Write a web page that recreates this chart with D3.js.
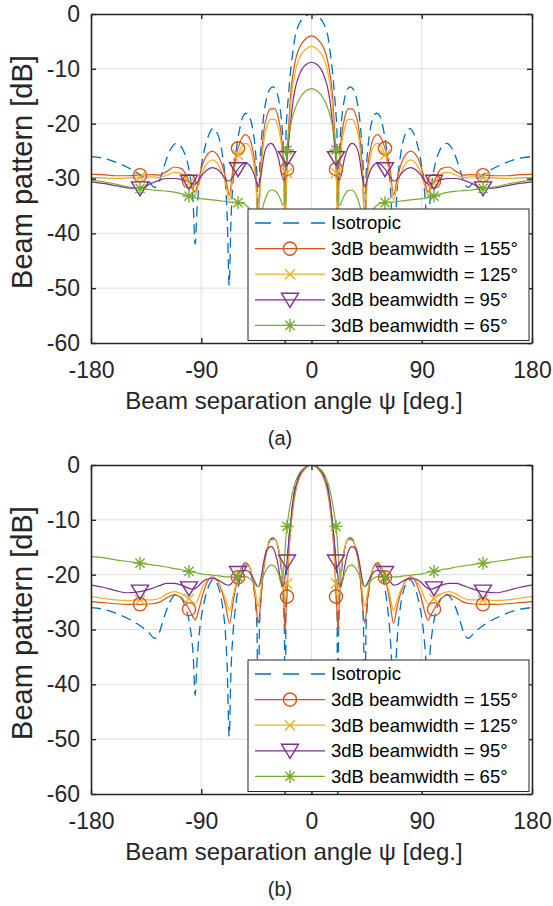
<!DOCTYPE html>
<html>
<head>
<meta charset="utf-8">
<script src="https://cdn.jsdelivr.net/npm/d3@7"></script>
<style>
  body { margin: 0; background: #fff; }
  svg { display: block; font-family: "Liberation Sans", Arial, Helvetica, sans-serif; }
</style>
</head>
<body>
<svg id="fig" width="553" height="906"></svg>
<script>
// ---- data ----
const xTicks = [-180, -90, 0, 90, 180];
const yTicks = [0, -10, -20, -30, -40, -50, -60];
const markerAngles = [-140, -100, -60, -20, 20, 60, 100, 140];
const legendLabels = ['Isotropic', '3dB beamwidth = 155\u00B0', '3dB beamwidth = 125\u00B0',
  '3dB beamwidth = 95\u00B0', '3dB beamwidth = 65\u00B0'];
const panelCaptions = ['(a)', '(b)'];

// isotropic pattern (same in both panels)
const isoAngles = [-180, -170, -160, -150, -140, -133, -128, -125, -122, -118, -114, -110.5, -107, -104, -101,
  -98.5, -96.5, -95, -93.5, -91.5, -89, -86, -83, -80.5, -78, -75, -72.5, -70.5, -68.8, -67.2, -65.8, -64,
  -61.5, -58.5, -55.5, -53, -50.5, -48, -46, -44.5, -43.5, -42.5, -41, -39, -36.5, -34, -31.5, -29, -26.5,
  -24.5, -23, -22, -21.5, -20.8, -20, -18.9, -16.7, -15, -13.5, -11.5, -9.4, -7, -4, 0,
  4, 7, 9.4, 11.5, 13.5, 15, 16.7, 18.9, 20, 20.8, 21.5, 22, 23, 24.5, 26.5, 29, 31.5, 34, 36.5, 39,
  41, 42.5, 43.5, 44.5, 46, 48, 50.5, 53, 55.5, 58.5, 61.5, 64, 65.8, 67.2, 68.8, 70.5, 72.5, 75, 78, 80.5,
  83, 86, 89, 91.5, 93.5, 95, 96.5, 98.5, 101, 104, 107, 110.5, 114, 118, 122, 125, 128, 133, 140, 150,
  160, 170, 180];
const isoPattern = [-26.0, -26.3, -27.0, -28.0, -29.3, -30.5, -31.6, -31.0, -29.0, -26.2, -24.3, -23.6, -24.0,
  -25.2, -27.3, -30.5, -35.0, -42.0, -36.0, -30.5, -26.5, -23.5, -21.6, -20.9, -21.3, -23.0, -26.0, -30.0,
  -37.0, -49.5, -38.0, -30.5, -25.0, -20.8, -18.5, -18.1, -18.8, -21.0, -24.5, -30.0, -56.0, -30.0, -23.5,
  -18.5, -15.2, -13.7, -13.3, -13.9, -16.0, -19.5, -24.5, -32.0, -80, -21.5, -18.3, -15.1, -9.6, -6.6, -4.2,
  -2.6, -1.5, -0.8, -0.25, 0,
  -0.25, -0.8, -1.5, -2.6, -4.2, -6.6, -9.6, -15.1, -18.3, -21.5, -80, -32.0, -24.5, -19.5, -16.0, -13.9,
  -13.3, -13.7, -15.2, -18.5, -23.5, -30.0, -56.0, -30.0, -24.5, -21.0, -18.8, -18.1, -18.5, -20.8, -25.0,
  -30.5, -38.0, -49.5, -37.0, -30.0, -26.0, -23.0, -21.3, -20.9, -21.6, -23.5, -26.5, -30.5, -36.0, -42.0,
  -35.0, -30.5, -27.3, -25.2, -24.0, -23.6, -24.3, -26.2, -29.0, -31.0, -31.6, -30.5, -29.3, -28.0, -27.0,
  -26.3, -26.0];

// directional beams, sampled on a common angle grid
const beamAngles = [-180, -170, -160, -150, -140, -130, -124, -118, -112, -106, -100, -97, -95, -93, -89,
  -85, -81, -77, -73, -70, -67, -64, -60, -57, -54, -51, -48, -45.5, -43.5, -41.5, -39, -36, -33, -30, -27,
  -25, -23.5, -22.3, -21.6, -21, -20, -19, -18, -17, -15, -13, -10, -5, 0,
  5, 10, 13, 15, 17, 18, 19, 20, 21, 21.6, 22.3, 23.5, 25, 27, 30, 33, 36, 39, 41.5, 43.5, 45.5, 48, 51,
  54, 57, 60, 64, 67, 70, 73, 77, 81, 85, 89, 93, 95, 97, 100, 106, 112, 118, 124, 130, 140, 150, 160,
  170, 180];

// panel (a)
const beamA155 = [-29.2, -29.3, -29.5, -29.5, -29.4, -29.3, -29.4, -28.7, -27.9, -28.2, -30.5, -31.8, -32.5,
  -31.0, -27.5, -25.6, -25.0, -25.6, -27.5, -30.0, -33.0, -28.0, -24.5, -22.7, -22.0, -22.5, -24.8, -29.0,
  -38.0, -28.0, -21.5, -18.3, -17.3, -17.3, -19.0, -21.5, -25.0, -31.0, -45.0, -34.0, -28.3, -22.0, -18.0,
  -14.5, -10.8, -8.3, -6.2, -4.6, -4.0,
  -4.6, -6.2, -8.3, -10.8, -14.5, -18.0, -22.0, -28.3, -34.0, -45.0, -31.0, -25.0, -21.5, -19.0, -17.3,
  -17.3, -18.3, -21.5, -28.0, -38.0, -29.0, -24.8, -22.5, -22.0, -22.7, -24.5, -28.0, -33.0, -30.0, -27.5,
  -25.6, -25.0, -25.6, -27.5, -31.0, -32.5, -31.8, -30.5, -28.2, -27.9, -28.7, -29.4, -29.3, -29.4, -29.5,
  -29.5, -29.3, -29.2];
const beamA125 = [-29.8, -29.9, -30.0, -29.9, -29.8, -29.7, -29.8, -29.4, -28.9, -29.1, -30.8, -32.2, -33.0,
  -31.8, -28.8, -27.2, -26.6, -27.2, -29.0, -31.0, -34.0, -29.5, -25.7, -24.2, -23.6, -24.0, -26.2, -30.5,
  -39.0, -29.5, -23.3, -20.2, -19.2, -19.2, -20.8, -23.2, -26.5, -32.0, -46.0, -35.0, -29.0, -23.5, -19.8,
  -16.4, -12.7, -10.2, -8.1, -6.5, -5.9,
  -6.5, -8.1, -10.2, -12.7, -16.4, -19.8, -23.5, -29.0, -35.0, -46.0, -32.0, -26.5, -23.2, -20.8, -19.2,
  -19.2, -20.2, -23.3, -29.5, -39.0, -30.5, -26.2, -24.0, -23.6, -24.2, -25.7, -29.5, -34.0, -31.0, -29.0,
  -27.2, -26.6, -27.2, -28.8, -31.8, -33.0, -32.2, -30.8, -29.1, -28.9, -29.4, -29.8, -29.7, -29.8, -29.9,
  -30.0, -29.9, -29.8];
const beamA95 = [-30.6, -30.9, -31.3, -31.7, -31.8, -30.8, -30.3, -30.0, -30.0, -30.2, -30.6, -31.0, -31.0,
  -30.6, -29.3, -28.4, -28.0, -28.3, -29.2, -30.2, -30.5, -29.6, -28.3, -27.5, -27.2, -27.5, -28.6, -30.2,
  -31.5, -29.8, -26.0, -24.0, -23.6, -24.3, -26.3, -28.5, -30.0, -30.3, -29.2, -27.8, -26.3, -24.2, -22.0,
  -19.6, -15.8, -13.3, -11.1, -9.3, -8.8,
  -9.3, -11.1, -13.3, -15.8, -19.6, -22.0, -24.2, -26.3, -27.8, -29.2, -30.3, -30.0, -28.5, -26.3, -24.3,
  -23.6, -24.0, -26.0, -29.8, -31.5, -30.2, -28.6, -27.5, -27.2, -27.5, -28.3, -29.6, -30.5, -30.2, -29.2,
  -28.3, -28.0, -28.4, -29.3, -30.6, -31.0, -31.0, -30.6, -30.2, -30.0, -30.0, -30.3, -30.8, -31.8, -31.7,
  -31.3, -30.9, -30.6];
const beamA65 = [-30.3, -30.6, -31.0, -31.5, -31.8, -32.1, -32.2, -32.3, -32.5, -32.8, -33.2, -33.4, -33.5,
  -33.6, -33.7, -33.8, -33.9, -34.0, -34.1, -34.2, -34.3, -34.3, -34.4, -34.5, -34.8, -35.4, -36.3, -37.3,
  -37.8, -36.8, -34.6, -32.8, -32.1, -32.2, -33.0, -34.0, -34.8, -34.8, -32.0, -28.5, -24.8, -22.8, -21.3,
  -20.2, -18.4, -17.0, -15.5, -14.1, -13.6,
  -14.1, -15.5, -17.0, -18.4, -20.2, -21.3, -22.8, -24.8, -28.5, -32.0, -34.8, -34.8, -34.0, -33.0, -32.2,
  -32.1, -32.8, -34.6, -36.8, -37.8, -37.3, -36.3, -35.4, -34.8, -34.5, -34.4, -34.3, -34.3, -34.2, -34.1,
  -34.0, -33.9, -33.8, -33.7, -33.6, -33.5, -33.4, -33.2, -32.8, -32.5, -32.3, -32.2, -32.1, -31.8, -31.5,
  -31.0, -30.6, -30.3];

// panel (b)
const beamB155 = [-24.9, -25.1, -25.3, -25.4, -25.4, -25.3, -25.0, -24.2, -23.7, -24.3, -26.3, -27.6, -28.3,
  -27.2, -23.8, -21.3, -20.4, -21.0, -23.2, -25.8, -28.9, -25.0, -20.5, -18.6, -17.8, -18.4, -21.0, -25.0,
  -28.9, -25.0, -19.0, -15.2, -13.6, -13.5, -15.2, -17.8, -21.0, -26.5, -30.5, -27.5, -24.0, -18.5, -14.6,
  -11.6, -7.5, -4.8, -2.4, -0.6, 0,
  -0.6, -2.4, -4.8, -7.5, -11.6, -14.6, -18.5, -24.0, -27.5, -30.5, -26.5, -21.0, -17.8, -15.2, -13.5,
  -13.6, -15.2, -19.0, -25.0, -28.9, -25.0, -21.0, -18.4, -17.8, -18.6, -20.5, -25.0, -28.9, -25.8, -23.2,
  -21.0, -20.4, -21.3, -23.8, -27.2, -28.3, -27.6, -26.3, -24.3, -23.7, -24.2, -25.0, -25.3, -25.4, -25.4,
  -25.3, -25.1, -24.9];
const beamB125 = [-24.0, -24.3, -24.6, -24.7, -24.6, -24.6, -24.3, -23.5, -23.1, -23.5, -24.4, -25.0, -25.3,
  -24.6, -22.3, -21.0, -20.6, -21.1, -22.8, -24.6, -26.5, -23.8, -20.4, -18.8, -18.2, -18.6, -20.5, -23.5,
  -25.8, -23.0, -18.5, -15.0, -13.7, -13.6, -15.2, -17.5, -20.3, -23.5, -25.0, -23.8, -21.6, -17.5, -14.0,
  -11.2, -7.0, -4.5, -2.3, -0.55, 0,
  -0.55, -2.3, -4.5, -7.0, -11.2, -14.0, -17.5, -21.6, -23.8, -25.0, -23.5, -20.3, -17.5, -15.2, -13.6,
  -13.7, -15.0, -18.5, -23.0, -25.8, -23.5, -20.5, -18.6, -18.2, -18.8, -20.4, -23.8, -26.5, -24.6, -22.8,
  -21.1, -20.6, -21.0, -22.3, -24.6, -25.3, -25.0, -24.4, -23.5, -23.1, -23.5, -24.3, -24.6, -24.6, -24.7,
  -24.6, -24.3, -24.0];
const beamB95 = [-21.9, -22.3, -22.9, -23.3, -23.1, -22.5, -22.0, -21.6, -21.6, -21.9, -22.5, -22.6, -22.5,
  -22.2, -21.3, -20.8, -20.7, -20.9, -21.4, -21.8, -21.9, -21.2, -19.7, -19.3, -19.2, -19.5, -20.5, -21.6,
  -22.2, -21.0, -17.6, -15.3, -14.9, -15.8, -18.6, -21.3, -22.4, -21.6, -20.3, -19.2, -17.6, -14.8, -12.3,
  -10.3, -6.3, -4.0, -2.0, -0.45, 0,
  -0.45, -2.0, -4.0, -6.3, -10.3, -12.3, -14.8, -17.6, -19.2, -20.3, -21.6, -22.4, -21.3, -18.6, -15.8,
  -14.9, -15.3, -17.6, -21.0, -22.2, -21.6, -20.5, -19.5, -19.2, -19.3, -19.7, -21.2, -21.9, -21.8, -21.4,
  -20.9, -20.7, -20.8, -21.3, -22.2, -22.5, -22.6, -22.5, -21.9, -21.6, -21.6, -22.0, -22.5, -23.1, -23.3,
  -22.9, -22.3, -21.9];
const beamB65 = [-16.7, -16.9, -17.3, -17.6, -17.9, -18.2, -18.4, -18.6, -18.9, -19.1, -19.4, -19.5, -19.6,
  -19.7, -19.9, -20.0, -20.1, -20.2, -20.3, -20.4, -20.4, -20.5, -20.5, -20.3, -20.3, -20.6, -21.2, -21.9,
  -22.2, -21.6, -20.1, -18.8, -18.2, -18.5, -19.8, -21.3, -20.5, -17.8, -15.5, -13.5, -11.2, -9.5, -8.0,
  -6.8, -4.5, -3.0, -1.5, -0.35, 0,
  -0.35, -1.5, -3.0, -4.5, -6.8, -8.0, -9.5, -11.2, -13.5, -15.5, -17.8, -20.5, -21.3, -19.8, -18.5,
  -18.2, -18.8, -20.1, -21.6, -22.2, -21.9, -21.2, -20.6, -20.3, -20.3, -20.5, -20.5, -20.4, -20.4, -20.3,
  -20.2, -20.1, -20.0, -19.9, -19.7, -19.6, -19.5, -19.4, -19.1, -18.9, -18.6, -18.4, -18.2, -17.9, -17.6,
  -17.3, -16.9, -16.7];

// ---- drawing ----
const colors = ['#0072BD', '#D95319', '#EDB120', '#7E2F8E', '#77AC30'];
const markerKinds = [null, 'circle', 'cross', 'triangle', 'star'];
const axisColor = '#262626';

const svg = d3.select('#fig');
svg.append('rect').attr('width', 553).attr('height', 906).attr('fill', '#fff');

const plot = { left: 91, right: 532, height: 329 };
const x = d3.scaleLinear().domain([-180, 180]).range([plot.left, plot.right]);

function drawMarker(sel, kind, color) {
  sel.attr('fill', 'none').attr('stroke', color).attr('stroke-width', 1.4);
  if (kind === 'circle') {
    sel.append('circle').attr('r', 6.6);
  } else if (kind === 'cross') {
    sel.append('path').attr('d', 'M-5,-5L5,5M-5,5L5,-5');
  } else if (kind === 'triangle') {
    sel.append('path').attr('d', 'M-8.5,-6.5L8.5,-6.5L0,7.5Z');
  } else if (kind === 'star') {
    sel.append('path').attr('d', 'M-6.5,0L6.5,0M0,-6.5L0,6.5M-4.6,-4.6L4.6,4.6M-4.6,4.6L4.6,-4.6');
  }
}

function drawPanel(top, beams, caption) {
  const bottom = top + plot.height;
  const y = d3.scaleLinear().domain([-60, 0]).range([bottom, top]);
  const g = svg.append('g');
  const clipId = 'clip' + top;

  g.append('clipPath').attr('id', clipId)
    .append('rect')
    .attr('x', plot.left).attr('y', top)
    .attr('width', plot.right - plot.left).attr('height', plot.height);

  // grid lines
  g.append('g').selectAll('line')
    .data(xTicks.slice(1, -1)).join('line')
    .attr('x1', (d) => x(d)).attr('x2', (d) => x(d))
    .attr('y1', top).attr('y2', bottom)
    .style('stroke', '#dfdfdf').style('stroke-width', 1);
  g.append('g').selectAll('line')
    .data(yTicks.slice(1, -1)).join('line')
    .attr('x1', plot.left).attr('x2', plot.right)
    .attr('y1', (d) => y(d)).attr('y2', (d) => y(d))
    .style('stroke', '#dfdfdf').style('stroke-width', 1);

  const line = d3.line()
    .x((d) => x(d[0]))
    .y((d) => y(d[1]))
    .curve(d3.curveMonotoneX);

  const curves = g.append('g').attr('clip-path', `url(#${clipId})`);

  // isotropic, dashed
  curves.append('path')
    .datum(isoAngles.map((a, i) => [a, isoPattern[i]]))
    .attr('d', line)
    .attr('fill', 'none')
    .attr('stroke', colors[0])
    .attr('stroke-width', 1.3)
    .attr('stroke-dasharray', '10,6');

  beams.forEach((vals, k) => {
    const color = colors[k + 1];
    curves.append('path')
      .datum(beamAngles.map((a, i) => [a, vals[i]]))
      .attr('d', line)
      .attr('fill', 'none')
      .attr('stroke', color)
      .attr('stroke-width', 1.2);
    markerAngles.forEach((a) => {
      const v = vals[beamAngles.indexOf(a)];
      const m = g.append('g').attr('transform', `translate(${x(a)},${y(v)})`);
      drawMarker(m, markerKinds[k + 1], color);
    });
  });

  // axes box with inward ticks, plain hyphen minus like the source
  const fmt = (d) => String(d);
  const bottomAxis = g.append('g')
    .attr('transform', `translate(0,${bottom})`)
    .call(d3.axisBottom(x).tickValues(xTicks).tickFormat(fmt)
      .tickSizeInner(-5).tickSizeOuter(0).tickPadding(19));
  const topAxis = g.append('g')
    .attr('transform', `translate(0,${top})`)
    .call(d3.axisTop(x).tickValues(xTicks).tickSizeInner(-5).tickSizeOuter(0).tickFormat(''));
  const leftAxis = g.append('g')
    .attr('transform', `translate(${plot.left},0)`)
    .call(d3.axisLeft(y).tickValues(yTicks).tickFormat(fmt)
      .tickSizeInner(-5).tickSizeOuter(0).tickPadding(11));
  const rightAxis = g.append('g')
    .attr('transform', `translate(${plot.right},0)`)
    .call(d3.axisRight(y).tickValues(yTicks).tickSizeInner(-5).tickSizeOuter(0).tickFormat(''));

  [bottomAxis, topAxis, leftAxis, rightAxis].forEach((a) => {
    a.select('.domain').style('stroke', axisColor).style('stroke-width', 1.6);
    a.selectAll('.tick line').style('stroke', axisColor).style('stroke-width', 1.4);
    a.selectAll('text')
      .style('fill', axisColor)
      .style('font-size', '23px')
      .style('font-family', '"Liberation Sans", Arial, sans-serif');
  });
  bottomAxis.selectAll('text').attr('dy', '0.71em');

  // axis labels
  g.append('text')
    .attr('x', 294).attr('y', bottom + 66)
    .attr('text-anchor', 'middle')
    .style('font-size', '24px').style('fill', axisColor)
    .text('Beam separation angle \u03C8 [deg.]');
  g.append('text')
    .attr('transform', `translate(32,${(top + bottom) / 2 - 6.5}) rotate(-90)`)
    .attr('text-anchor', 'middle')
    .style('font-size', '29px').style('fill', axisColor)
    .text('Beam pattern [dB]');
  g.append('text')
    .attr('x', 280).attr('y', bottom + 102)
    .attr('text-anchor', 'middle')
    .style('font-size', '20px').style('fill', axisColor)
    .text(caption);

  // legend
  const lg = g.append('g').attr('transform', `translate(248,${bottom - 134})`);
  lg.append('rect')
    .attr('width', 281).attr('height', 131.5)
    .attr('fill', '#fff').attr('stroke', axisColor).attr('stroke-width', 1);
  legendLabels.forEach((label, k) => {
    const row = lg.append('g').attr('transform', `translate(0,${14 + k * 25.6})`);
    const sample = row.append('line')
      .attr('x1', 7).attr('x2', 77).attr('y1', 0).attr('y2', 0)
      .attr('stroke', colors[k]).attr('stroke-width', 1.3);
    if (k === 0) {
      sample.attr('stroke-dasharray', '16,12');
    } else {
      drawMarker(row.append('g').attr('transform', 'translate(42,0)'), markerKinds[k], colors[k]);
    }
    row.append('text')
      .attr('x', 83).attr('y', 0).attr('dy', '0.35em')
      .style('font-size', '18.5px').style('fill', '#000')
      .text(label);
  });
}

drawPanel(14, [beamA155, beamA125, beamA95, beamA65], panelCaptions[0]);
drawPanel(465, [beamB155, beamB125, beamB95, beamB65], panelCaptions[1]);
</script>
</body>
</html>
